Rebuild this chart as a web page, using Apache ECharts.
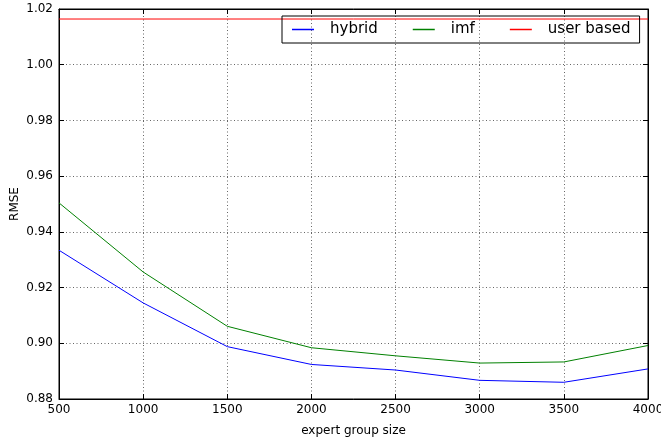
<!DOCTYPE html>
<html>
<head>
<meta charset="utf-8">
<script src="https://cdn.jsdelivr.net/npm/echarts@6/dist/echarts.min.js"></script>
<style>
  html,body{margin:0;padding:0;background:#fff;}
  #chart{width:661px;height:446px;}
</style>
</head>
<body>
<div id="chart"></div>
<script>
  // expert group size
  var groupSizes = [500, 1000, 1500, 2000, 2500, 3000, 3500, 4000];
  var hybrid = [0.9334, 0.9145, 0.8988, 0.8924, 0.8904, 0.8867, 0.8860, 0.8908];
  var imf = [0.9504, 0.9256, 0.9061, 0.8984, 0.8955, 0.8929, 0.8933, 0.8992];
  var userBased = 1.0164;

  var font = 'DejaVu Sans';

  function pairs(xs, ys){
    return xs.map(function(x, i){ return [x, ys[i]]; });
  }

  var chart = echarts.init(document.getElementById('chart'));

  var tickStyle = {show:true, inside:true, length:5, lineStyle:{color:'#000', width:1}};

  var option = {
    animation:false,
    grid:{left:59, right:13, top:9, bottom:47, outerBoundsMode:'none', containLabel:false,
      show:true, borderColor:'#000', borderWidth:1},
    legend:{
      left:282, top:16,
      padding:[6,9,6,10],
      borderColor:'#000', borderWidth:1,
      itemWidth:22, itemHeight:1.5, itemGap:35,
      icon:'rect',
      textStyle:{fontFamily:font, fontSize:15, color:'#000', padding:[0,0,0,11]},
      data:['hybrid','imf','user based']
    },
    xAxis:[{
      type:'value', min:500, max:4000, interval:500,
      name:'expert group size', nameLocation:'middle', nameGap:26, nameMoveOverlap:false,
      nameTextStyle:{fontFamily:font, fontSize:12, color:'#000'},
      axisLine:{show:true, lineStyle:{color:'#000'}},
      axisTick:tickStyle,
      axisLabel:{fontFamily:font, fontSize:12, color:'#000', margin:5,
        formatter:function(v){ return String(v); }},
      splitLine:{show:true, lineStyle:{color:'#666', type:[1,2.5], width:1}}
    },{
      type:'value', min:500, max:4000, interval:500, position:'top',
      axisLine:{show:true, lineStyle:{color:'#000'}},
      axisTick:tickStyle, axisLabel:{show:false}, splitLine:{show:false}
    }],
    yAxis:[{
      type:'value', min:0.88, max:1.02, interval:0.02,
      name:'RMSE', nameLocation:'middle', nameGap:38, nameMoveOverlap:false,
      nameTextStyle:{fontFamily:font, fontSize:12, color:'#000'},
      axisLine:{show:true, lineStyle:{color:'#000'}},
      axisTick:tickStyle,
      axisLabel:{fontFamily:font, fontSize:12, color:'#000', margin:6,
        formatter:function(v){ return v.toFixed(2); }},
      splitLine:{show:true, lineStyle:{color:'#666', type:[1,2.5], width:1}}
    },{
      type:'value', min:0.88, max:1.02, interval:0.02, position:'right',
      axisLine:{show:true, lineStyle:{color:'#000'}},
      axisTick:tickStyle, axisLabel:{show:false}, splitLine:{show:false}
    }],
    series:[{
      name:'hybrid', type:'line', symbol:'none',
      color:'#0000ff', lineStyle:{width:1},
      data:pairs(groupSizes, hybrid)
    },{
      name:'imf', type:'line', symbol:'none',
      color:'#008000', lineStyle:{width:1},
      data:pairs(groupSizes, imf)
    },{
      name:'user based', type:'line', symbol:'none',
      color:'#ff0000', lineStyle:{width:1},
      data:pairs([groupSizes[0], groupSizes[groupSizes.length-1]], [userBased, userBased])
    }]
  };

  chart.setOption(option);
</script>
</body>
</html>
